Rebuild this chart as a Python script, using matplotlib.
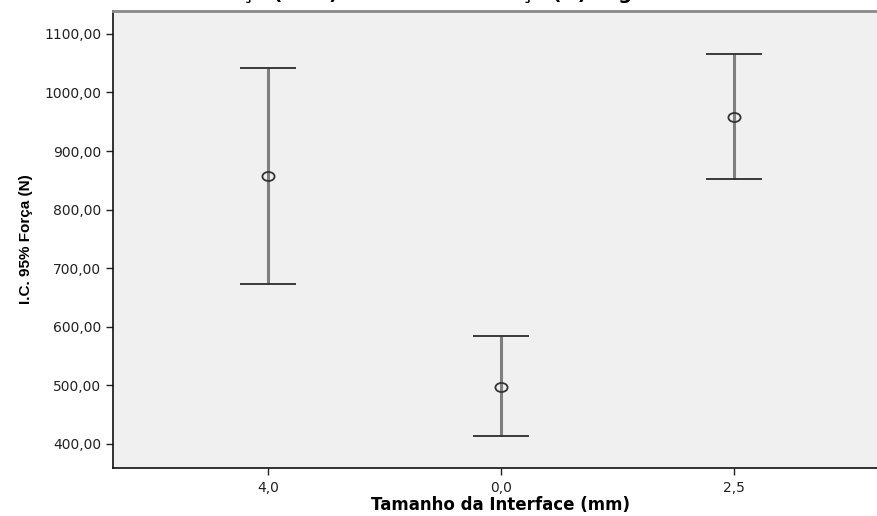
import matplotlib.pyplot as plt
from matplotlib.markers import MarkerStyle
from matplotlib.transforms import Affine2D
from matplotlib.ticker import FuncFormatter

# dados (I.C. 95%)
grupos = ['4,0', '0,0', '2,5']
media = [857, 498, 958]
ic_inf = [673, 413, 852]
ic_sup = [1041, 584, 1065]

titulo = 'Intervalo de Confiança (95%) da Média de Força (N) segundo Tamanho da Interface'

fig = plt.figure(figsize=(8.77, 5.16), dpi=100)
fig.patch.set_facecolor('white')
ax = fig.add_axes([113 / 877, 48 / 516, (889 - 113) / 877, (468 - 11) / 516])
ax.set_facecolor('#f0f0f0')

x = list(range(len(grupos)))
err_baixo = [m - l for m, l in zip(media, ic_inf)]
err_cima = [u - m for m, u in zip(media, ic_sup)]

elipse = MarkerStyle('o', transform=Affine2D().scale(1.35, 1.0))
linha, caps, barras = ax.errorbar(x, media, yerr=[err_baixo, err_cima], fmt='none',
                                  ecolor='#7f7f7f', elinewidth=2.2, capsize=20,
                                  capthick=1.3, zorder=2)
for c in caps:
    c.set_markeredgecolor('#2b2b2b')
    c.set_color('#2b2b2b')
ax.plot(x, media, linestyle='none', marker=elipse, markersize=6.5,
        markerfacecolor='none', markeredgecolor='#333333', markeredgewidth=1.3, zorder=3)

ax.set_xlim(-0.665, 2.665)
ax.set_ylim(359, 1139)
ax.set_xticks(x)
ax.set_xticklabels(grupos)
ax.set_yticks(range(400, 1101, 100))
ax.yaxis.set_major_formatter(FuncFormatter(lambda v, p: f'{v:.2f}'.replace('.', ',')))
ax.tick_params(axis='both', direction='out', length=5, width=1, colors='#222222',
               labelsize=10, labelcolor='#222222')
ax.tick_params(axis='x', pad=4)

for s in ['left', 'bottom']:
    ax.spines[s].set_color('#111111')
    ax.spines[s].set_linewidth(1.2)
ax.spines['top'].set_color('#8a8a8a')
ax.spines['top'].set_linewidth(2)
ax.spines['right'].set_visible(False)

ax.set_xlabel('Tamanho da Interface (mm)', fontsize=12, fontweight='bold', labelpad=1)
ax.set_ylabel('I.C. 95% Força (N)', fontsize=11, fontweight='bold',
              family='Liberation Sans', labelpad=8)

# titulo cortado no topo da imagem
fig.text(0.542, 1.0 + 1.0 / 516, titulo, ha='center', va='baseline',
         fontsize=14, fontweight='bold')

fig.savefig('out.png', dpi=100)
